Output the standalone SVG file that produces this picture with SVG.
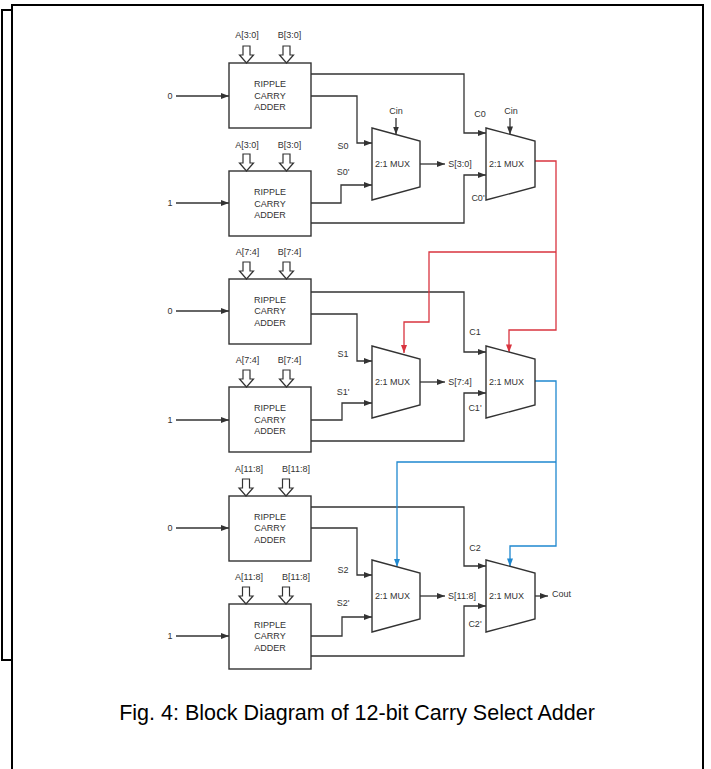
<svg xmlns="http://www.w3.org/2000/svg" width="711" height="769" viewBox="0 0 711 769">
<defs>
<style>
.frame{fill:none;stroke:#000;stroke-width:2}
.box{fill:#fff;stroke:#333;stroke-width:1.4}
.mux{fill:#fff;stroke:#333;stroke-width:1.4}
.hol{fill:#fff;stroke:#333;stroke-width:1.2}
.w{fill:none;stroke:#333;stroke-width:1.3}
.r{fill:none;stroke:#d9343f;stroke-width:1.3}
.b{fill:none;stroke:#1f88cf;stroke-width:1.3}
.t{font-family:"Liberation Sans",Arial,sans-serif;font-size:9px;fill:#333}
.m{text-anchor:middle}
.cap{font-family:"Liberation Sans",Arial,sans-serif;font-size:21.5px;fill:#000;text-anchor:middle}
</style>
<marker id="ak" viewBox="0 0 8 6" refX="8" refY="3" markerWidth="8" markerHeight="6" markerUnits="userSpaceOnUse" orient="auto"><path d="M0,0 L8,3 L0,6 z" fill="#333"/></marker>
<marker id="ar" viewBox="0 0 8 6" refX="8" refY="3" markerWidth="8" markerHeight="6" markerUnits="userSpaceOnUse" orient="auto"><path d="M0,0 L8,3 L0,6 z" fill="#d9343f"/></marker>
<marker id="ab" viewBox="0 0 8 6" refX="8" refY="3" markerWidth="8" markerHeight="6" markerUnits="userSpaceOnUse" orient="auto"><path d="M0,0 L8,3 L0,6 z" fill="#1f88cf"/></marker>
<path id="hollow" d="M-3.5,0 H3.5 V9 H7 L0,17 L-7,9 H-3.5 Z"/>
</defs>
<rect width="711" height="769" fill="#fff"/>
<g id="frame">
<path class="frame" d="M12,10 H2 V660 H12"/>
<path class="frame" d="M12,785 V5 H703 V785"/>
</g>

<g id="connectors">
<!-- stage 0 -->
<path class="w" d="M176,96 H229" marker-end="url(#ak)"/>
<path class="w" d="M176,203 H229" marker-end="url(#ak)"/>
<path class="w" d="M311,74 H464 V133 H486" marker-end="url(#ak)"/>
<path class="w" d="M311,96 H357 V143 H372" marker-end="url(#ak)"/>
<path class="w" d="M311,203 H341 V185 H372" marker-end="url(#ak)"/>
<path class="w" d="M311,223 H464 V175 H486" marker-end="url(#ak)"/>
<path class="w" d="M396,118 V134.5" marker-end="url(#ak)"/>
<path class="w" d="M510,118 V134.4" marker-end="url(#ak)"/>
<path class="w" d="M420,164 H445" marker-end="url(#ak)"/>
<!-- stage 1 -->
<path class="w" d="M176,311 H229" marker-end="url(#ak)"/>
<path class="w" d="M176,420 H229" marker-end="url(#ak)"/>
<path class="w" d="M311,292 H464 V352 H486" marker-end="url(#ak)"/>
<path class="w" d="M311,314 H357 V361 H372" marker-end="url(#ak)"/>
<path class="w" d="M311,420 H342 V403 H372" marker-end="url(#ak)"/>
<path class="w" d="M311,441 H464 V393 H486" marker-end="url(#ak)"/>
<path class="w" d="M420,382 H445" marker-end="url(#ak)"/>
<!-- stage 2 -->
<path class="w" d="M176,528 H229" marker-end="url(#ak)"/>
<path class="w" d="M176,636 H229" marker-end="url(#ak)"/>
<path class="w" d="M311,507 H464 V566 H486" marker-end="url(#ak)"/>
<path class="w" d="M311,528 H357 V575 H372" marker-end="url(#ak)"/>
<path class="w" d="M311,636 H342 V617 H372" marker-end="url(#ak)"/>
<path class="w" d="M311,656 H464 V606 H486" marker-end="url(#ak)"/>
<path class="w" d="M420,596 H445" marker-end="url(#ak)"/>
<path class="w" d="M535,596 H548" marker-end="url(#ak)"/>
<!-- carry select chain -->
<path class="r" d="M535,161 H556 V330 H509 V352.4" marker-end="url(#ar)"/>
<path class="r" d="M556,252 H429 V322 H404 V353" marker-end="url(#ar)"/>
<path class="b" d="M535,381 H556 V546 H510 V566.4" marker-end="url(#ab)"/>
<path class="b" d="M556,462 H397 V566.8" marker-end="url(#ab)"/>
</g>

<!-- Stage 0 -->
<g id="rca0a">
<rect class="box" x="229" y="63" width="82" height="65"/>
<use href="#hollow" class="hol" x="246.5" y="46"/>
<use href="#hollow" class="hol" x="286.5" y="46"/>
<text class="t m" x="247" y="38">A[3:0]</text>
<text class="t m" x="289.5" y="38">B[3:0]</text>
<text class="t m" x="270" y="87">RIPPLE</text>
<text class="t m" x="270" y="98.5">CARRY</text>
<text class="t m" x="270" y="110">ADDER</text>
<text class="t m" x="170" y="99">0</text>
</g>
<g id="rca0b">
<rect class="box" x="229" y="171" width="82" height="65"/>
<use href="#hollow" class="hol" x="246.5" y="154"/>
<use href="#hollow" class="hol" x="286.5" y="154"/>
<text class="t m" x="247" y="148">A[3:0]</text>
<text class="t m" x="289.5" y="148">B[3:0]</text>
<text class="t m" x="270" y="195">RIPPLE</text>
<text class="t m" x="270" y="206.5">CARRY</text>
<text class="t m" x="270" y="218">ADDER</text>
<text class="t m" x="170" y="206">1</text>
</g>
<g id="mux0s">
<polygon class="mux" points="372,128 420,141 420,187 372,200"/>
<text class="t" x="375" y="167">2:1 MUX</text>
<text class="t m" x="396" y="114">Cin</text>
<text class="t m" x="343" y="149">S0</text>
<text class="t m" x="343" y="175">S0'</text>
<text class="t m" x="460" y="167">S[3:0]</text>
</g>
<g id="mux0c">
<polygon class="mux" points="486,128 535,141 535,187 486,200"/>
<text class="t" x="489" y="167">2:1 MUX</text>
<text class="t m" x="511" y="114">Cin</text>
<text class="t m" x="480" y="117">C0</text>
<text class="t m" x="478" y="201">C0'</text>
</g>

<!-- Stage 1 -->
<g id="rca1a">
<rect class="box" x="229" y="279" width="82" height="65"/>
<use href="#hollow" class="hol" x="246.5" y="262"/>
<use href="#hollow" class="hol" x="286.5" y="262"/>
<text class="t m" x="247.5" y="255">A[7:4]</text>
<text class="t m" x="289.5" y="255">B[7:4]</text>
<text class="t m" x="270" y="302.5">RIPPLE</text>
<text class="t m" x="270" y="314">CARRY</text>
<text class="t m" x="270" y="325.5">ADDER</text>
<text class="t m" x="170" y="314">0</text>
</g>
<g id="rca1b">
<rect class="box" x="229" y="387" width="82" height="65"/>
<use href="#hollow" class="hol" x="246.5" y="370"/>
<use href="#hollow" class="hol" x="286.5" y="370"/>
<text class="t m" x="247.5" y="363">A[7:4]</text>
<text class="t m" x="289.5" y="363">B[7:4]</text>
<text class="t m" x="270" y="411">RIPPLE</text>
<text class="t m" x="270" y="422.5">CARRY</text>
<text class="t m" x="270" y="434">ADDER</text>
<text class="t m" x="170" y="423">1</text>
</g>
<g id="mux1s">
<polygon class="mux" points="372,346 420,359 420,405 372,418"/>
<text class="t" x="375" y="385">2:1 MUX</text>
<text class="t m" x="343" y="357">S1</text>
<text class="t m" x="343" y="395">S1'</text>
<text class="t m" x="460" y="385">S[7:4]</text>
</g>
<g id="mux1c">
<polygon class="mux" points="486,346 535,359 535,405 486,418"/>
<text class="t" x="489" y="385">2:1 MUX</text>
<text class="t m" x="475" y="335">C1</text>
<text class="t m" x="475" y="411">C1'</text>
</g>

<!-- Stage 2 -->
<g id="rca2a">
<rect class="box" x="229" y="496" width="82" height="65"/>
<use href="#hollow" class="hol" x="246" y="479"/>
<use href="#hollow" class="hol" x="286" y="479"/>
<text class="t m" x="249" y="472">A[11:8]</text>
<text class="t m" x="296" y="472">B[11:8]</text>
<text class="t m" x="270" y="519.5">RIPPLE</text>
<text class="t m" x="270" y="531">CARRY</text>
<text class="t m" x="270" y="542.5">ADDER</text>
<text class="t m" x="170" y="531">0</text>
</g>
<g id="rca2b">
<rect class="box" x="229" y="604" width="82" height="65"/>
<use href="#hollow" class="hol" x="246" y="587"/>
<use href="#hollow" class="hol" x="286" y="587"/>
<text class="t m" x="249" y="580">A[11:8]</text>
<text class="t m" x="296" y="580">B[11:8]</text>
<text class="t m" x="270" y="627.5">RIPPLE</text>
<text class="t m" x="270" y="639">CARRY</text>
<text class="t m" x="270" y="650.5">ADDER</text>
<text class="t m" x="170" y="639">1</text>
</g>
<g id="mux2s">
<polygon class="mux" points="372,560 420,573 420,619 372,632"/>
<text class="t" x="375" y="599">2:1 MUX</text>
<text class="t m" x="343" y="573">S2</text>
<text class="t m" x="343" y="606">S2'</text>
<text class="t m" x="462" y="599">S[11:8]</text>
</g>
<g id="mux2c">
<polygon class="mux" points="486,560 535,573 535,619 486,632"/>
<text class="t" x="489" y="599">2:1 MUX</text>
<text class="t m" x="475" y="551">C2</text>
<text class="t m" x="475" y="627">C2'</text>
<text class="t" x="552" y="597">Cout</text>
</g>

<g id="caption">
<text class="cap" x="357" y="720">Fig. 4: Block Diagram of 12-bit Carry Select Adder</text>
</g>
</svg>
